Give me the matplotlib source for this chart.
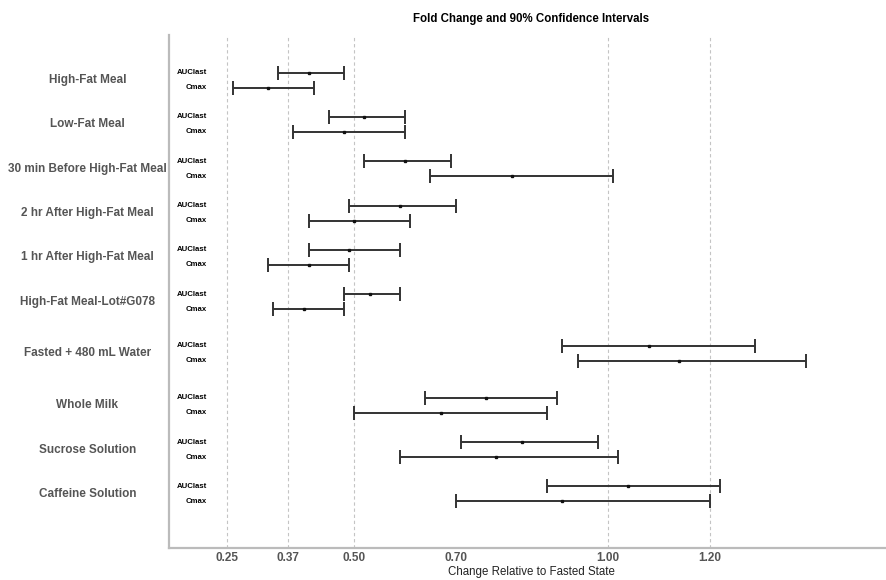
import matplotlib.pyplot as plt
import numpy as np

plt.rcParams["font.family"] = ["Liberation Sans", "DejaVu Sans"]

LABEL_GRAY = "#555555"
BAR_COLOR = "#333333"
SPINE_COLOR = "#bbbbbb"

groups = [
    "High-Fat Meal",
    "Low-Fat Meal",
    "30 min Before High-Fat Meal",
    "2 hr After High-Fat Meal",
    "1 hr After High-Fat Meal",
    "High-Fat Meal-Lot#G078",
    "Fasted + 480 mL Water",
    "Whole Milk",
    "Sucrose Solution",
    "Caffeine Solution",
]

auc_lo = [0.35, 0.45, 0.52, 0.49, 0.41, 0.48, 0.91, 0.64, 0.71, 0.88]
auc_est = [0.41, 0.52, 0.60, 0.59, 0.49, 0.53, 1.08, 0.76, 0.83, 1.04]
auc_hi = [0.48, 0.60, 0.69, 0.70, 0.59, 0.59, 1.29, 0.90, 0.98, 1.22]

cmax_lo = [0.26, 0.38, 0.65, 0.41, 0.33, 0.34, 0.94, 0.50, 0.59, 0.70]
cmax_est = [0.33, 0.48, 0.81, 0.50, 0.41, 0.40, 1.14, 0.67, 0.78, 0.91]
cmax_hi = [0.42, 0.60, 1.01, 0.61, 0.49, 0.48, 1.39, 0.88, 1.02, 1.20]

xticks = [0.25, 0.37, 0.50, 0.70, 1.00, 1.20]
grid_at = [0.25, 0.37, 0.50, 1.00, 1.20]

# the water arm sits a little apart from the rest
offset = np.array([0, 0, 0, 0, 0, 0, 0.16, 0.34, 0.34, 0.34])
pos = np.arange(len(groups)) + offset
row = 0.17

fig = plt.figure(figsize=(8.87, 5.80), dpi=100)
ax = fig.add_axes([0.1905, 0.0552, 0.8163, 0.8845])

for x in grid_at:
    ax.axvline(x, color="#c4c4c4", lw=0.8, ls=(0, (3, 2.5)), zorder=0)


def draw(est, lo, hi, y):
    est = np.array(est)
    err = [est - np.array(lo), np.array(hi) - est]
    ax.errorbar(est, y, xerr=err, fmt="s", ms=1.7, color="#111111",
                ecolor=BAR_COLOR, elinewidth=1.4, capsize=5.3, capthick=1.4)


draw(auc_est, auc_lo, auc_hi, pos - row)
draw(cmax_est, cmax_lo, cmax_hi, pos + row)

for p, name in zip(pos, groups):
    ax.text(-0.1126, p, name, transform=ax.get_yaxis_transform(),
            ha="center", va="center", fontsize=8.5, fontweight="bold",
            color=LABEL_GRAY)
    ax.text(0.0525, p - row, "AUClast", transform=ax.get_yaxis_transform(),
            ha="right", va="center", fontsize=5.6, fontweight="bold",
            color="black")
    ax.text(0.0525, p + row, "Cmax", transform=ax.get_yaxis_transform(),
            ha="right", va="center", fontsize=5.6, fontweight="bold",
            color="black")

ax.set_xlim(0.1347, 1.5616)
ax.set_ylim(10.56, -1.02)
ax.set_yticks([])
ax.set_xticks(xticks)
ax.set_xticklabels([f"{t:.2f}" for t in xticks])
ax.tick_params(axis="x", length=0, pad=3, labelsize=8.5, labelcolor=LABEL_GRAY)
for lbl in ax.get_xticklabels():
    lbl.set_fontweight("bold")

for side in ["top", "right"]:
    ax.spines[side].set_visible(False)
for side in ["left", "bottom"]:
    ax.spines[side].set_color(SPINE_COLOR)
    ax.spines[side].set_linewidth(1.6)

ax.set_xlabel("Change Relative to Fasted State", fontsize=8.3,
              color="#222222", labelpad=1)
ax.set_title("Fold Change and 90% Confidence Intervals", fontsize=8.3,
             fontweight="bold", pad=9)

fig.savefig("out.png", dpi=100)
